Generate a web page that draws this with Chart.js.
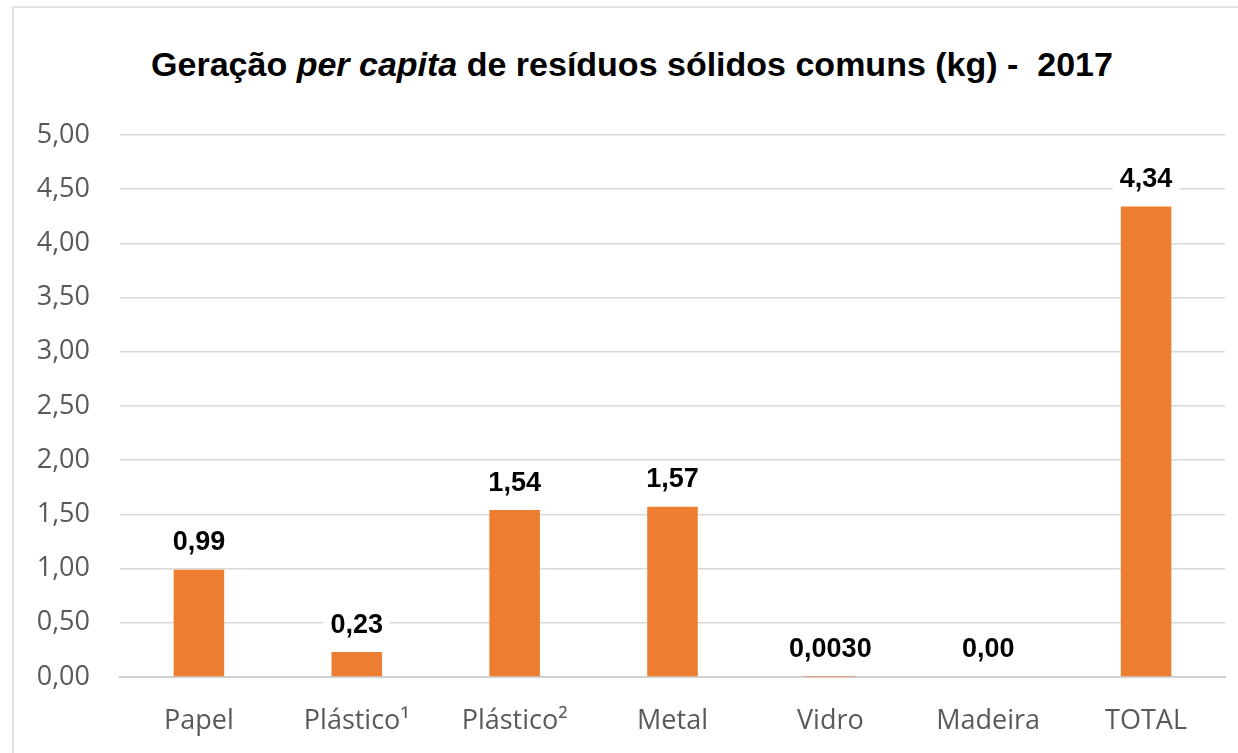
<!DOCTYPE html>
<html>
<head>
<meta charset="utf-8">
<script src="https://cdn.jsdelivr.net/npm/chart.js@4.4.1/dist/chart.umd.min.js"></script>
<style>
  body { margin: 0; background: #fff; }
  #wrap { position: relative; width: 1238px; height: 753px; overflow: hidden; }
  #frame { position: absolute; left: 12px; top: 6px; width: 1240px; height: 760px; border: 2px solid #e3e3e3; box-sizing: border-box; }
  #title { position: absolute; left: 0; width: 1264px; top: 44px; text-align: center; line-height: 40px;
    font-family: "Liberation Sans", Arial, sans-serif; font-weight: bold; font-size: 34px; color: #000; white-space: pre; }
  canvas { position: absolute; left: 0; top: 0; }
</style>
</head>
<body>
<div id="wrap">
  <div id="frame"></div>
  <div id="title">Geração <i>per capita</i> de resíduos sólidos comuns (kg) -  2017</div>
  <canvas id="chart" width="1238" height="753"></canvas>
</div>
<script>
// chart data
const categories = ["Papel", "Plástico¹", "Plástico²", "Metal", "Vidro", "Madeira", "TOTAL"];
const values = [0.99, 0.23, 1.54, 1.57, 0.003, 0.00, 4.34];
const valueLabels = ["0,99", "0,23", "1,54", "1,57", "0,0030", "0,00", "4,34"];
const yTicks = [0, 0.5, 1, 1.5, 2, 2.5, 3, 3.5, 4, 4.5, 5];

// draws the value above each bar, with a white box behind it
const valueLabelPlugin = {
  id: 'valueLabels',
  afterDatasetsDraw(chart) {
    const ctx = chart.ctx;
    const meta = chart.getDatasetMeta(0);
    ctx.save();
    ctx.font = "bold 27px 'Liberation Sans', Arial, sans-serif";
    ctx.textAlign = 'center';
    ctx.textBaseline = 'middle';
    meta.data.forEach((bar, i) => {
      const txt = valueLabels[i];
      const y = bar.y - 27;
      const w = ctx.measureText(txt).width + 14;
      ctx.fillStyle = '#ffffff';
      ctx.fillRect(bar.x - w / 2, y - 15, w, 30);
      ctx.fillStyle = '#000000';
      ctx.fillText(txt, bar.x, y);
    });
    ctx.restore();
  }
};

new Chart(document.getElementById('chart').getContext('2d'), {
  type: 'bar',
  data: {
    labels: categories,
    datasets: [{
      data: values,
      backgroundColor: '#ED7D31',
      barPercentage: 0.32,
      categoryPercentage: 1.0
    }]
  },
  options: {
    responsive: false,
    animation: false,
    layout: { padding: { top: 135, right: 13, left: 0, bottom: 0 } },
    plugins: {
      legend: { display: false },
      tooltip: { enabled: false }
    },
    scales: {
      y: {
        min: 0,
        max: 5,
        afterFit(scale) { scale.width = 120; },
        afterBuildTicks(scale) { scale.ticks = yTicks.map(v => ({ value: v })); },
        grid: { color: '#d9d9d9', lineWidth: 1.5, drawTicks: false },
        border: { display: false },
        ticks: {
          padding: 30,
          color: '#595959',
          font: { family: "'Open Sans', 'DejaVu Sans', sans-serif", size: 27 },
          callback: v => v.toFixed(2).replace('.', ',')
        }
      },
      x: {
        afterFit(scale) { scale.height = 76; },
        grid: { display: false },
        border: { display: true, color: '#d0d0d0', width: 2 },
        ticks: {
          padding: 20,
          color: '#595959',
          font: { family: "'Open Sans', 'DejaVu Sans', sans-serif", size: 27 }
        }
      }
    }
  },
  plugins: [valueLabelPlugin]
});
</script>
</body>
</html>
